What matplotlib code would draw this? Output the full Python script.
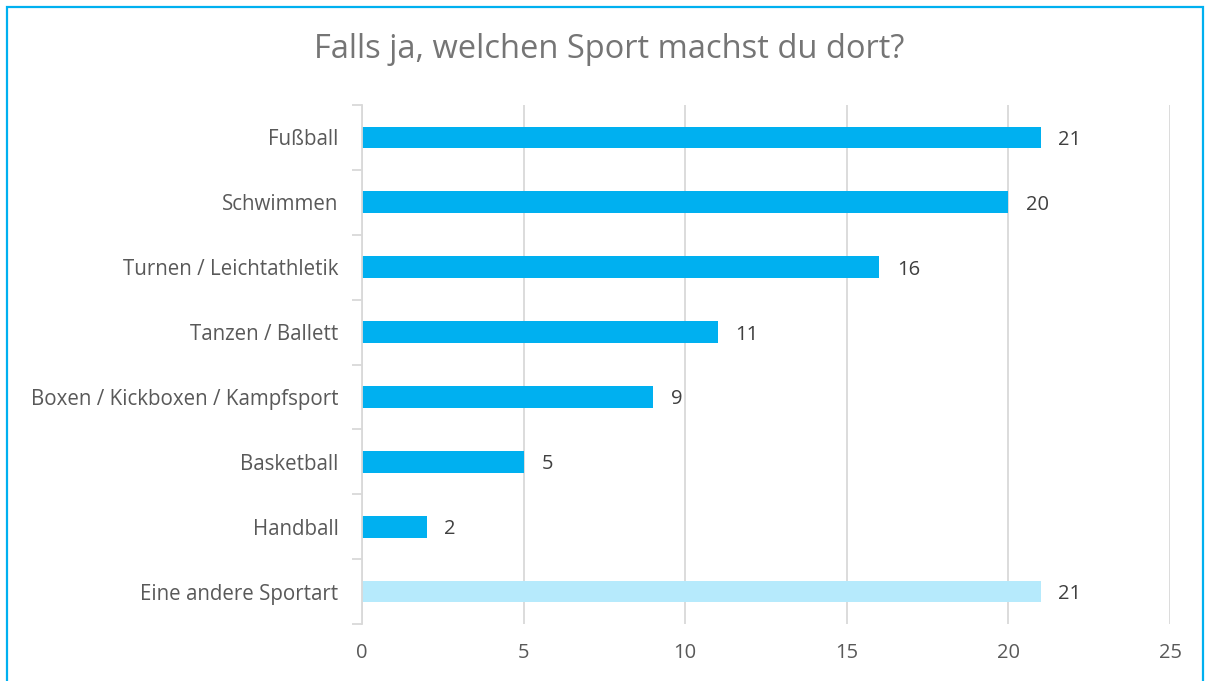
import matplotlib.pyplot as plt
from matplotlib.patches import Rectangle
import numpy as np

categories = ["Fußball", "Schwimmen", "Turnen / Leichtathletik", "Tanzen / Ballett",
              "Boxen / Kickboxen / Kampfsport", "Basketball", "Handball", "Eine andere Sportart"]
values = [21, 20, 16, 11, 9, 5, 2, 21]
colors = ["#00b0f0"] * 7 + ["#b6eafc"]
x_ticks = [0, 5, 10, 15, 20, 25]

plt.rcParams['font.family'] = ['Open Sans', 'DejaVu Sans']

fig = plt.figure(figsize=(12.06, 6.81), dpi=100)
ax = fig.add_axes([362 / 1206, 1 - 624 / 681, 808 / 1206, 519 / 681])

y = np.arange(len(categories))
ax.barh(y, values, height=0.335, color=colors, zorder=3)

for yi, v in zip(y, values):
    ax.text(v + 0.55, yi, str(v), va='center_baseline', ha='left', fontsize=14.5, color='#404040', zorder=4)

ax.set_xlim(0, 25)
ax.set_ylim(len(categories) - 0.5, -0.5)
ax.set_xticks(x_ticks)
ax.set_xticklabels([str(t) for t in x_ticks], fontsize=14.5, color='#595959')
ax.set_yticks(y)
ax.set_yticklabels(categories, fontsize=14.8, color='#595959', va='center_baseline')
ax.set_yticks(np.arange(len(categories) + 1) - 0.5, minor=True)
ax.tick_params(axis='y', which='major', length=0, pad=17)
ax.tick_params(axis='y', which='minor', length=7, color='#d9d9d9', width=1.3)
ax.tick_params(axis='x', length=0, pad=14)
ax.grid(axis='x', color='#d9d9d9', linewidth=1.3, zorder=0)

for side in ['top', 'right', 'bottom']:
    ax.spines[side].set_visible(False)
ax.spines['left'].set_color('#d9d9d9')
ax.spines['left'].set_linewidth(1.3)
ax.spines['left'].set_zorder(5)

fig.text(0.5 + 6 / 1206, 1 - 50 / 681, "Falls ja, welchen Sport machst du dort?", ha='center', va='center',
         fontsize=23.5, color='#757575')

fig.patches.append(Rectangle((7 / 1206, -0.01), 1 - 10 / 1206, 1 - 7 / 681 + 0.01, transform=fig.transFigure,
                             fill=False, edgecolor='#00b0f0', linewidth=1.6))

fig.savefig("out.png", dpi=100)
